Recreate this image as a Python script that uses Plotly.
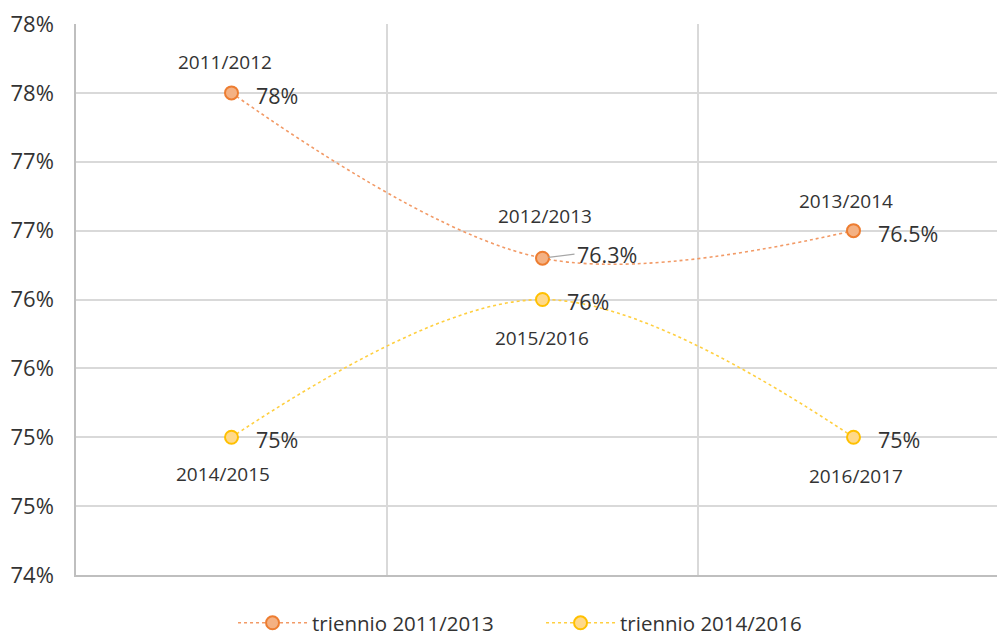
import plotly.graph_objects as go

# Data
positions = [0, 1, 2]
series1_name = "triennio 2011/2013"
series1_values = [77.5, 76.3, 76.5]
series1_years = ["2011/2012", "2012/2013", "2013/2014"]
series1_labels = ["78%", "76.3%", "76.5%"]

series2_name = "triennio 2014/2016"
series2_values = [75.0, 76.0, 75.0]
series2_years = ["2014/2015", "2015/2016", "2016/2017"]
series2_labels = ["75%", "76%", "75%"]

y_tickvals = [74.0, 74.5, 75.0, 75.5, 76.0, 76.5, 77.0, 77.5, 78.0]
y_ticktext = ["74%", "75%", "75%", "76%", "76%", "77%", "77%", "78%", "78%"]

FONT = "Open Sans"
TXT = "#333333"
ORANGE_LINE = "#F29A66"
ORANGE_FILL = "#F4B183"
ORANGE_EDGE = "#ED7D31"
YELLOW_LINE = "#FFCF40"
YELLOW_FILL = "#FFD98A"
YELLOW_EDGE = "#FFC000"

fig = go.Figure()
fig.add_trace(go.Scatter(
    x=positions, y=series1_values, name=series1_name, mode="lines+markers",
    line=dict(color=ORANGE_LINE, width=1.6, dash="dot", shape="spline", smoothing=1.0),
    marker=dict(size=13, color=ORANGE_FILL, line=dict(color=ORANGE_EDGE, width=2)),
))
fig.add_trace(go.Scatter(
    x=positions, y=series2_values, name=series2_name, mode="lines+markers",
    line=dict(color=YELLOW_LINE, width=1.6, dash="dot", shape="spline", smoothing=1.0),
    marker=dict(size=13, color=YELLOW_FILL, line=dict(color=YELLOW_EDGE, width=2)),
))

annotations = []
# category (year) labels
s1_shift = [(-7, 31), (2, 42), (-8, 30)]
for xi, yi, t, (dx, dy) in zip(positions, series1_values, series1_years, s1_shift):
    annotations.append(dict(x=xi, y=yi, text=t, showarrow=False, xshift=dx, yshift=dy,
                            font=dict(size=19, color=TXT, family=FONT)))
s2_shift = [(-9, -37), (-1, -38), (2, -39)]
for xi, yi, t, (dx, dy) in zip(positions, series2_values, series2_years, s2_shift):
    annotations.append(dict(x=xi, y=yi, text=t, showarrow=False, xshift=dx, yshift=dy,
                            font=dict(size=19, color=TXT, family=FONT)))
# value labels
for i, (xi, yi, t) in enumerate(zip(positions, series1_values, series1_labels)):
    if i == 1:
        annotations.append(dict(x=xi, y=yi, text=t, showarrow=True, arrowhead=0,
                                arrowwidth=1.2, arrowcolor="#A6A6A6", standoff=6,
                                ax=32, ay=-4, xanchor="left",
                                font=dict(size=21.5, color=TXT, family=FONT)))
    else:
        annotations.append(dict(x=xi, y=yi, text=t, showarrow=False, xanchor="left",
                                xshift=22, yshift=-3,
                                font=dict(size=21.5, color=TXT, family=FONT)))
for xi, yi, t in zip(positions, series2_values, series2_labels):
    annotations.append(dict(x=xi, y=yi, text=t, showarrow=False, xanchor="left",
                            xshift=22, yshift=-2,
                            font=dict(size=21.5, color=TXT, family=FONT)))

fig.update_layout(
    width=997, height=637,
    margin=dict(l=76, r=0, t=24, b=62),
    paper_bgcolor="white", plot_bgcolor="white",
    font=dict(family=FONT, color=TXT),
    annotations=annotations,
    legend=dict(orientation="h", x=0.1705, xanchor="left",
                yref="container", y=0.022, yanchor="middle",
                font=dict(size=20.5, color=TXT, family=FONT), itemwidth=69,
                entrywidth=224, tracegroupgap=0),
    showlegend=True,
)
fig.update_xaxes(
    range=[-0.5, -0.5 + 921 / 311], tickvals=[0.5, 1.5], showticklabels=False,
    showgrid=True, gridcolor="#D9D9D9", gridwidth=1.5, zeroline=False,
    showline=True, linecolor="#BFBFBF", linewidth=1.5, ticks="", automargin=False,
)
fig.update_yaxes(
    range=[74, 78], tickvals=y_tickvals, ticktext=y_ticktext,
    showgrid=True, gridcolor="#D9D9D9", gridwidth=1.5, zeroline=False,
    showline=True, linecolor="#BFBFBF", linewidth=1.5, ticks="", automargin=False,
    ticklabelstandoff=16, tickfont=dict(size=22, color=TXT, family=FONT),
)

fig.write_html("out.html", config={"displayModeBar": False},
               post_script="document.body.style.margin='0';")
